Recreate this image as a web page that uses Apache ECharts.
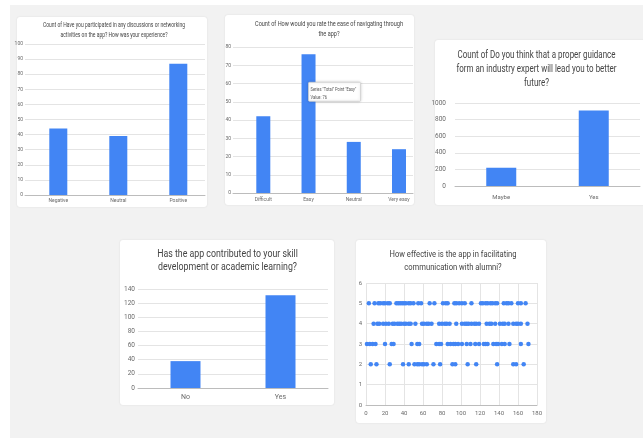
<!DOCTYPE html>
<html><head><meta charset="utf-8">
<script src="https://cdn.jsdelivr.net/npm/echarts@6/dist/echarts.min.js"></script>
<style>html,body{margin:0;padding:0;background:#fff}#c{width:643px;height:438px}</style>
</head><body><div id="c"></div>
<script>
// ---------------- data ----------------
const discussionTitle = ['Count of Have you participated in any discussions or networking', 'activities on the app? How was your experience?'];
const discussionCategories = ['Negative', 'Neutral', 'Positive'];
const discussionCounts = [44, 39, 87];

const navigationTitle = ['Count of How would you rate the ease of navigating through', 'the app?'];
const navigationCategories = ['Difficult', 'Easy', 'Neutral', 'Very easy'];
const navigationCounts = [42, 76, 28, 24];
const tooltipLines = ['Series "Total" Point "Easy"', 'Value: 76'];

const guidanceTitle = ['Count of Do you think that a proper guidance', 'form an industry expert will lead you to better', 'future?'];
const guidanceCategories = ['Maybe', 'Yes'];
const guidanceCounts = [220, 910];

const skillTitle = ['Has the app contributed to your skill', 'development or academic learning?'];
const skillCategories = ['No', 'Yes'];
const skillCounts = [38, 131];

const alumniTitle = ['How effective is the app in facilitating', 'communication with alumni?'];
// respondent index for each rating value
const rating5 = [3, 9, 13, 15, 18, 20, 23, 25, 32, 34, 36, 38, 40, 42, 45, 47, 50, 55, 58, 67, 72, 81, 84, 86, 93, 95, 98, 101, 104, 111, 121, 123, 126, 128, 131, 133, 136, 138, 145, 148, 150, 153, 160, 163, 168];
const rating4 = [8, 12, 14, 18, 21, 24, 28, 30, 33, 35, 37, 40, 42, 45, 47, 52, 59, 61, 64, 66, 69, 77, 80, 83, 85, 88, 95, 101, 104, 106, 108, 111, 114, 116, 119, 127, 130, 132, 136, 141, 144, 146, 150, 155, 158, 160, 163, 170];
const rating3 = [1, 4, 7, 10, 20, 27, 29, 48, 54, 56, 74, 77, 79, 86, 89, 92, 94, 97, 101, 106, 110, 115, 119, 124, 126, 128, 134, 137, 139, 143, 146, 151, 163, 171];
const rating2 = [5, 11, 25, 39, 45, 51, 54, 56, 59, 61, 64, 71, 78, 91, 94, 107, 116, 138, 155, 158, 166];

// ---------------- styling / layout ----------------
const BLUE = '#4285f4';
const LABEL = '#6a6a6a';
const GRIDC = '#e4e4e4';
const FONT = 'Roboto, "Noto Sans", sans-serif';

const chart = echarts.init(document.getElementById('c'));
const grids = [], xAxes = [], yAxes = [], series = [], graphic = [];

// page background + cards
graphic.push({type: 'rect', z: -10, shape: {x: 0, y: 0, width: 643, height: 438}, style: {fill: '#ffffff'}, silent: true});
graphic.push({type: 'rect', z: -9, shape: {x: 10, y: 5, width: 633, height: 433}, style: {fill: '#f2f2f2'}, silent: true});
const cards = [
  {x: 17, y: 17, width: 190, height: 190},
  {x: 225, y: 15, width: 189, height: 190},
  {x: 435, y: 40, width: 212, height: 165},
  {x: 120, y: 240, width: 214, height: 165},
  {x: 356, y: 240, width: 190, height: 183}
];
cards.forEach(c => graphic.push({type: 'rect', z: -8, silent: true,
  shape: Object.assign({r: 3}, c),
  style: {fill: '#ffffff', shadowBlur: 2, shadowColor: 'rgba(0,0,0,0.10)'}}));

// titles (text horizontally condensed like the source image)
const measureCtx = document.createElement('canvas').getContext('2d');
function title(lines, cx, top, size, lh, targetW, refLine) {
  measureCtx.font = size + 'px Roboto';
  const w = measureCtx.measureText(lines[refLine]).width;
  graphic.push({type: 'text', x: cx, y: top, scaleX: targetW / w, silent: true, z: 5,
    style: {text: lines.join('\n'), align: 'center', verticalAlign: 'top', fontSize: size, lineHeight: lh, fontFamily: FONT, fill: '#444'}});
}
title(discussionTitle, 114, 20, 7, 10, 142, 0);
title(navigationTitle, 329, 19, 7.5, 10, 148, 0);
title(guidanceTitle, 536.5, 48, 10.5, 14, 160, 1);
title(skillTitle, 227.5, 247.5, 11, 13, 139, 1);
title(alumniTitle, 453, 248.5, 9.5, 13, 127, 0);

function barPanel(cats, vals, yMax, yStep, L) {
  const idx = grids.length;
  grids.push({left: L.left, top: L.top, width: L.width, height: L.height});
  xAxes.push({type: 'value', gridIndex: idx, min: L.xMin, max: L.xMax,
    splitLine: {show: false}, axisTick: {show: false},
    axisLine: {show: true, lineStyle: {color: '#bcbcbc', width: 1}},
    axisLabel: {customValues: cats.map((c, i) => i), formatter: v => cats[Math.round(v)] || '',
      fontSize: L.xFont, color: LABEL, margin: L.xMargin, fontFamily: FONT}});
  yAxes.push({type: 'value', gridIndex: idx, min: 0, max: yMax, interval: yStep,
    splitLine: {lineStyle: {color: GRIDC, width: 1}}, axisLine: {show: false}, axisTick: {show: false},
    axisLabel: {fontSize: L.yFont, color: LABEL, margin: L.yMargin, fontFamily: FONT, formatter: v => String(v)}});
  series.push({type: 'bar', xAxisIndex: idx, yAxisIndex: idx, silent: true, z: 2,
    data: vals.map((v, i) => [i, v]), barWidth: L.barW, itemStyle: {color: BLUE}});
}

barPanel(discussionCategories, discussionCounts, 100, 10,
  {left: 25, top: 44, width: 180, height: 151, xMin: -0.555, xMax: 2.445, barW: 18, xFont: 5, yFont: 5, xMargin: 3, yMargin: 2});
barPanel(navigationCategories, navigationCounts, 80, 10,
  {left: 233, top: 47, width: 180, height: 146, xMin: -0.67, xMax: 3.31, barW: 14, xFont: 5, yFont: 5, xMargin: 4, yMargin: 2});
barPanel(guidanceCategories, guidanceCounts, 1000, 200,
  {left: 455, top: 103, width: 185, height: 83, xMin: -0.5, xMax: 1.5, barW: 30, xFont: 6, yFont: 6.5, xMargin: 8, yMargin: 9});
barPanel(skillCategories, skillCounts, 140, 20,
  {left: 138, top: 289, width: 190, height: 99, xMin: -0.5, xMax: 1.5, barW: 30, xFont: 7, yFont: 6.5, xMargin: 6, yMargin: 3});

// scatter panel
grids.push({left: 366, top: 283, width: 171, height: 122});
xAxes.push({type: 'value', gridIndex: 4, min: 0, max: 180, interval: 20,
  splitLine: {lineStyle: {color: GRIDC}}, axisTick: {show: false},
  axisLine: {show: true, lineStyle: {color: '#bcbcbc'}},
  axisLabel: {fontSize: 6, color: LABEL, margin: 5, fontFamily: FONT}});
yAxes.push({type: 'value', gridIndex: 4, min: 0, max: 6, interval: 1,
  splitLine: {lineStyle: {color: GRIDC}}, axisTick: {show: false}, axisLine: {show: false},
  axisLabel: {fontSize: 6, color: LABEL, margin: 4, fontFamily: FONT}});
const scatterData = [].concat(
  rating5.map(x => [x, 5]), rating4.map(x => [x, 4]),
  rating3.map(x => [x, 3]), rating2.map(x => [x, 2]));
series.push({type: 'scatter', xAxisIndex: 4, yAxisIndex: 4, silent: true,
  data: scatterData, symbolSize: 4.5, itemStyle: {color: BLUE, opacity: 1}});

chart.setOption({animation: false, grid: grids, xAxis: xAxes, yAxis: yAxes, series: series, graphic: graphic});

// static hover box from the screenshot, anchored on the "Easy" bar
const p = chart.convertToPixel({gridIndex: 1}, [1, navigationCounts[1]]);
graphic.push({type: 'rect', z: 50, silent: true,
  shape: {x: p[0], y: p[1] + 28, width: 52, height: 19, r: 1},
  style: {fill: '#ffffff', stroke: '#cfcfcf', lineWidth: 0.8, shadowBlur: 3, shadowColor: 'rgba(0,0,0,0.18)'}});
graphic.push({type: 'text', z: 51, silent: true, x: p[0] + 2, y: p[1] + 31, scaleX: 0.8,
  style: {text: tooltipLines.join('\n'), fontSize: 5, lineHeight: 8, fill: '#555', fontFamily: FONT, verticalAlign: 'top'}});
chart.setOption({graphic: graphic});
</script>
</body></html>
